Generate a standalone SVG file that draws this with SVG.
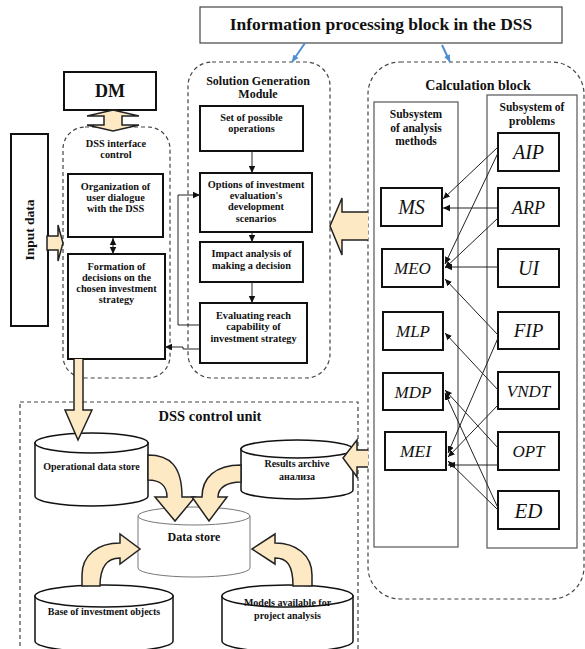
<svg xmlns="http://www.w3.org/2000/svg" width="585" height="649" viewBox="0 0 585 649">
<defs>
<marker id="ah" markerUnits="userSpaceOnUse" markerWidth="8" markerHeight="8" refX="7" refY="4" orient="auto-start-reverse"><path d="M0,0.8 L7,4 L0,7.2 Z" fill="#111"/></marker>
<marker id="bh" markerUnits="userSpaceOnUse" markerWidth="8" markerHeight="8" refX="7" refY="4" orient="auto"><path d="M0,0.8 L7,4 L0,7.2 Z" fill="#4f8fcf"/></marker>
</defs>
<style>
.t{font-family:"Liberation Serif","Times New Roman",serif;font-weight:bold;fill:#111;text-anchor:middle;font-size:10.3px}
.box{fill:#fff;stroke:#111;stroke-width:2}
.dash{fill:none;stroke:#444;stroke-width:1.2;stroke-dasharray:4 3}
.thin{fill:#fff;stroke:#555;stroke-width:1.2}
.ba{fill:#FDE9C4;stroke:#222;stroke-width:1.5}
.cyl{fill:#fff;stroke:#111;stroke-width:1.5}
.it{font-family:"Liberation Serif","Times New Roman",serif;font-style:italic;fill:#111;text-anchor:middle}
.c{fill:none;stroke:#222;stroke-width:1}
</style>
<rect width="585" height="649" fill="#fff"/>

<g id="containers">
<rect class="dash" x="368" y="62" width="216" height="537" rx="32"/>
<rect class="dash" x="188" y="62" width="142" height="316" rx="24"/>
<rect class="dash" x="63" y="127" width="107" height="251" rx="22"/>
<rect class="dash" x="20" y="402" width="338" height="260"/>
</g>

<g id="title">
<rect x="200" y="7" width="362" height="36" fill="#fff" stroke="#444" stroke-width="1.2"/>
<text class="t" x="381" y="30" style="font-size:17.5px">Information processing block in the DSS</text>
</g>

<g id="dm">
<rect class="box" x="64" y="72" width="92" height="38"/>
<text class="t" x="110" y="97" style="font-size:18px">DM</text>
</g>

<g id="input-data">
<rect class="box" x="11" y="134" width="37" height="192"/>
<text class="t" transform="translate(34,230) rotate(-90)" style="font-size:13.5px">Input data</text>
</g>

<g id="interface-control">
<text class="t" x="116" y="146.5">DSS interface</text>
<text class="t" x="116" y="158">control</text>
</g>

<g id="organization">
<rect class="box" x="68" y="174" width="95" height="63"/>
<text class="t" x="115.5" y="189.5">Organization of</text>
<text class="t" x="115.5" y="200.5">user dialogue</text>
<text class="t" x="115.5" y="211.5">with the DSS</text>
</g>

<g id="formation">
<rect class="box" x="68" y="254" width="97" height="105"/>
<text class="t" x="116.5" y="269.5">Formation of</text>
<text class="t" x="116.5" y="280.5">decisions on the</text>
<text class="t" x="116.5" y="291.5">chosen investment</text>
<text class="t" x="116.5" y="302.5">strategy</text>
</g>

<g id="sgm">
<text class="t" x="258" y="85" style="font-size:12px">Solution Generation</text>
<text class="t" x="258" y="98" style="font-size:12px">Module</text>
</g>

<g id="set-operations">
<rect class="box" x="200" y="106" width="103" height="45"/>
<text class="t" x="251.5" y="120.5">Set of possible</text>
<text class="t" x="251.5" y="131.5">operations</text>
</g>

<g id="options">
<rect class="box" x="200" y="173" width="112" height="59"/>
<text class="t" x="256" y="187.5">Options of investment</text>
<text class="t" x="256" y="198.5">evaluation's</text>
<text class="t" x="256" y="210">development</text>
<text class="t" x="256" y="221.5">scenarios</text>
</g>

<g id="impact">
<rect class="box" x="200" y="242" width="103" height="40"/>
<text class="t" x="251.5" y="257">Impact analysis of</text>
<text class="t" x="251.5" y="269">making a decision</text>
</g>

<g id="evaluating">
<rect class="box" x="200" y="303" width="107" height="60"/>
<text class="t" x="253.5" y="318.5">Evaluating reach</text>
<text class="t" x="253.5" y="329.5">capability of</text>
<text class="t" x="253.5" y="341.5">investment strategy</text>
</g>

<g id="calculation-block">
<text class="t" x="478" y="90" style="font-size:14px">Calculation block</text>
</g>

<g id="subsystem-methods">
<rect class="thin" x="374" y="102" width="84" height="445"/>
<text class="t" x="416" y="118" style="font-size:11.5px">Subsystem</text>
<text class="t" x="416" y="132" style="font-size:11.5px">of analysis</text>
<text class="t" x="416" y="145" style="font-size:11.5px">methods</text>
</g>

<g id="subsystem-problems">
<rect class="thin" x="487" y="95" width="90" height="453"/>
<text class="t" x="532" y="111" style="font-size:11.5px">Subsystem of</text>
<text class="t" x="532" y="125" style="font-size:11.5px">problems</text>
</g>

<g id="MS"><rect class="box" x="381" y="188" width="61" height="38"/><text class="it" x="411.5" y="214" style="font-size:20px">MS</text></g>
<g id="MEO"><rect class="box" x="382" y="249" width="61" height="38"/><text class="it" x="412.5" y="274" style="font-size:17px">MEO</text></g>
<g id="MLP"><rect class="box" x="383" y="312" width="60" height="38"/><text class="it" x="413" y="337" style="font-size:17px">MLP</text></g>
<g id="MDP"><rect class="box" x="383" y="373" width="60" height="37"/><text class="it" x="413" y="397.5" style="font-size:17px">MDP</text></g>
<g id="MEI"><rect class="box" x="385" y="432" width="61" height="38"/><text class="it" x="415.5" y="457" style="font-size:17.5px">MEI</text></g>

<g id="AIP"><rect class="box" x="498" y="133" width="61" height="38"/><text class="it" x="528.5" y="159" style="font-size:20px">AIP</text></g>
<g id="ARP"><rect class="box" x="498" y="188" width="61" height="38"/><text class="it" x="528.5" y="213.5" style="font-size:18px">ARP</text></g>
<g id="UI"><rect class="box" x="498" y="249" width="61" height="38"/><text class="it" x="528.5" y="275" style="font-size:20px">UI</text></g>
<g id="FIP"><rect class="box" x="498" y="312" width="61" height="37"/><text class="it" x="528.5" y="337" style="font-size:19px">FIP</text></g>
<g id="VNDT"><rect class="box" x="498" y="372" width="61" height="37"/><text class="it" x="528.5" y="396.5" style="font-size:17px">VNDT</text></g>
<g id="OPT"><rect class="box" x="498" y="432" width="61" height="38"/><text class="it" x="528.5" y="457" style="font-size:17px">OPT</text></g>
<g id="ED"><rect class="box" x="498" y="491" width="61" height="38"/><text class="it" x="528.5" y="517.5" style="font-size:21px">ED</text></g>

<g id="control-unit">
<text class="t" x="210" y="421" style="font-size:14.5px">DSS control unit</text>
</g>

<g id="operational-store">
<path class="cyl" d="M35,443 L35,496 A56.5,10 0 0 0 148,496 L148,443 Z"/>
<ellipse class="cyl" cx="91.5" cy="443" rx="56.5" ry="10"/>
<text class="t" x="91.5" y="470" style="font-size:10px">Operational data store</text>
</g>

<g id="results-archive">
<path class="cyl" d="M241,449 L241,490 A56,9 0 0 0 353,490 L353,449 Z"/>
<ellipse class="cyl" cx="297" cy="449" rx="56" ry="9"/>
<text class="t" x="297" y="467" style="font-size:10px">Results archive</text>
<text class="t" x="297" y="480" style="font-size:10px">анализа</text>
</g>

<g id="data-store">
<path d="M138,516 L138,568 A56,9 0 0 0 250,568 L250,516 Z" fill="#fff" stroke="#777" stroke-width="1"/>
<ellipse cx="194" cy="516" rx="56" ry="9" fill="#fff" stroke="#777" stroke-width="1"/>
<text class="t" x="194" y="541" style="font-size:12px">Data store</text>
</g>

<g id="base-objects">
<path class="cyl" d="M35,596 L35,641 A69,11 0 0 0 173,641 L173,596 Z"/>
<ellipse class="cyl" cx="104" cy="596" rx="69" ry="11"/>
<text class="t" x="104" y="615" style="font-size:10px">Base of investment objects</text>
</g>

<g id="models">
<path class="cyl" d="M222,596 L222,641 A65.5,11 0 0 0 353,641 L353,596 Z"/>
<ellipse class="cyl" cx="287.5" cy="596" rx="65.5" ry="11"/>
<text class="t" x="287.5" y="606" style="font-size:10px">Models available for</text>
<text class="t" x="287.5" y="619" style="font-size:10px">project analysis</text>
</g>

<g id="connectors">
<line x1="305" y1="43" x2="292" y2="62" stroke="#4f8fcf" stroke-width="2" marker-end="url(#bh)"/>
<line x1="442" y1="45" x2="450" y2="62" stroke="#4f8fcf" stroke-width="2" marker-end="url(#bh)"/>

<path class="ba" d="M113,110 L139,116 L122,116 L122,125 L139,125 L113,131 L87,125 L104,125 L104,116 L87,116 Z"/>
<path class="ba" d="M47,236 L58,236 L58,225 L63,243 L58,261 L58,250 L47,250 Z"/>
<line class="c" x1="113" y1="238" x2="113" y2="254" marker-start="url(#ah)" marker-end="url(#ah)"/>

<line class="c" x1="252" y1="151" x2="252" y2="173" marker-end="url(#ah)"/>
<line class="c" x1="252" y1="232" x2="252" y2="242" marker-end="url(#ah)"/>
<line class="c" x1="252" y1="282" x2="252" y2="303" marker-end="url(#ah)"/>
<polyline class="c" points="200,325 178,325 178,195 200,195" marker-end="url(#ah)"/>
<polyline class="c" points="200,349 183,349 183,347 165,347" marker-end="url(#ah)"/>

<path class="ba" d="M368,212 L342,212 L342,198 L330,226 L342,255 L342,240 L368,240"/>
<path class="ba" d="M368,450 L357,450 L357,440 L343,458 L357,477 L357,467 L368,467"/>
<path class="ba" d="M74,359 L74,410 L65,410 L78,440 L92,410 L83,410 L83,359"/>

<path class="ba" d="M148,455 C170,455 182,466 182,497 L195,497 L175,521 L155,497 L167,497 C167,486 160,480 148,480 Z"/>
<path class="ba" d="M241,465 C215,465 202,478 202,497 L192,497 L209,521 L227,497 L218,497 C218,487 228,482 241,482 Z"/>
<path class="ba" d="M82,586 L82,575 C82,555 98,543 120,543 L120,534 L140,549 L120,564 L120,558 C108,558 100,565 100,586 Z"/>
<path class="ba" d="M312,586 L312,575 C312,555 296,543 275,543 L275,534 L252,549 L275,564 L275,558 C287,558 293,565 293,586 Z"/>

<line class="c" x1="498" y1="147" x2="443" y2="199" marker-end="url(#ah)"/>
<line class="c" x1="498" y1="153" x2="445" y2="264" marker-end="url(#ah)"/>
<line class="c" x1="498" y1="208" x2="443" y2="208" marker-end="url(#ah)"/>
<line class="c" x1="498" y1="218" x2="445" y2="268" marker-end="url(#ah)"/>
<line class="c" x1="498" y1="267" x2="445" y2="267" marker-end="url(#ah)"/>
<line class="c" x1="498" y1="335" x2="445" y2="279" marker-end="url(#ah)"/>
<line class="c" x1="498" y1="338" x2="448" y2="453" marker-end="url(#ah)"/>
<line class="c" x1="498" y1="390" x2="445" y2="333" marker-end="url(#ah)"/>
<line class="c" x1="498" y1="405" x2="448" y2="457" marker-end="url(#ah)"/>
<line class="c" x1="498" y1="448" x2="445" y2="390" marker-end="url(#ah)"/>
<line class="c" x1="498" y1="465" x2="448" y2="465" marker-end="url(#ah)"/>
<line class="c" x1="498" y1="508" x2="445" y2="393" marker-end="url(#ah)"/>
<line class="c" x1="498" y1="510" x2="448" y2="461" marker-end="url(#ah)"/>
</g>
</svg>
